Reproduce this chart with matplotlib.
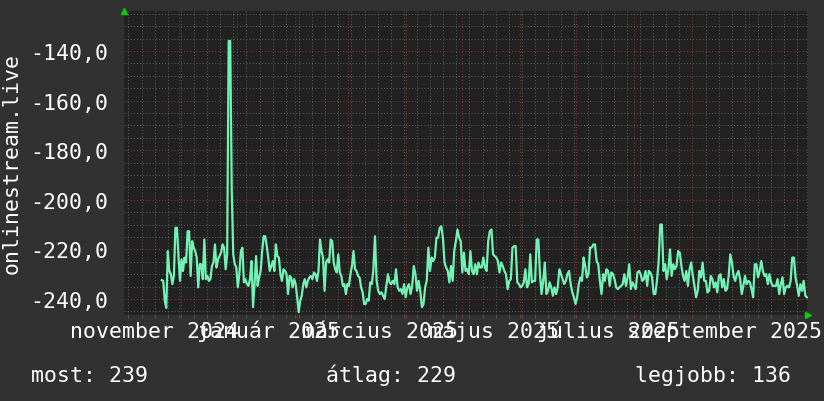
import matplotlib
matplotlib.use('Agg')
import matplotlib.pyplot as plt
import matplotlib.dates as mdates
import matplotlib.ticker as mticker
import matplotlib.transforms as mtransforms
import pandas as pd

# ping-like values in three stretches
seg1_start, seg1_end = '2024-11-21 18:30', '2025-03-14 16:00'
seg1 = [-232.4, -232.7, -240.7, -243.6, -220.7, -228.7, -230, -234, -230.7, -211.3,
        -211.3, -222.7, -232.7, -224, -228.7, -223.3, -225.3, -212.7, -212.7, -230.7,
        -216.7, -219.3, -220.7, -223.3, -235.3, -226, -226, -232, -216, -232,
        -230.7, -232.7, -232, -226.7, -225.3, -218, -227.3, -224, -222.7, -221.3,
        -218, -219.3, -228, -222, -136, -136, -196, -222, -226, -227.3,
        -235.3, -230, -220.7, -219.3, -233.3, -232, -234, -234.7, -232, -224.7,
        -243.3, -234, -222.7, -234.7, -231.3, -228.7, -220.7, -214.7, -214.7, -218.7,
        -223.3, -228.7, -226.7, -224.7, -228.7, -218, -222.7, -223.3, -230, -232.7,
        -228, -228.7, -230, -238, -230.7, -231.3, -235.3, -232, -234, -239.3,
        -245.3, -240.7, -238.7, -234, -232, -235.3, -232.7, -231.3, -230.7, -232,
        -229.3, -230, -232.7, -228.7, -216, -220.7, -223.3, -236.7, -225.3, -224,
        -225.3, -216, -216.7, -225.3, -228, -229.3, -222, -229.3, -230.7, -234.7,
        -234, -238, -234, -234.7, -230, -226.7, -220.7, -228, -228.7, -230.7,
        -231.3, -235.3, -237.3, -242, -242, -240, -240.7, -233.3, -234, -228.7]

seg2_start, seg2_end = '2025-03-15 14:00', '2025-07-10 02:00'
seg2 = [-214.7, -232.7, -236.7, -238, -237.3, -238.7, -240, -234.7, -230, -233.3,
        -234, -232.7, -234, -228, -235.3, -236.7, -236, -238, -234, -239.3,
        -235.3, -234, -238, -234.7, -226.7, -230, -236.7, -232.7, -236.7, -243.3,
        -242, -235.3, -232.7, -219.3, -228.7, -223.3, -224.7, -223.3, -215.3, -215.3,
        -211.3, -210.7, -215.3, -225.3, -227.3, -228.7, -233.3, -226.7, -232.7, -220.7,
        -216.7, -212, -215.3, -216.7, -229.3, -221.3, -228.7, -228, -230, -220.7,
        -228.7, -230, -226, -230, -225.3, -227.3, -227.3, -223.3, -227.3, -228.7,
        -216.7, -212.7, -212, -222, -222.7, -223.3, -224.7, -229.3, -225.3, -226.7,
        -228.7, -230, -236, -232.7, -232, -219.3, -218.7, -218.7, -233.3, -234,
        -235.3, -234.7, -233.3, -228, -235.3, -234, -222, -233.3, -232.7, -232.7,
        -216, -216, -230, -238, -232.7, -225.3, -238, -236.7, -233.3, -235.3,
        -238.7, -235.3, -238, -235.3, -228, -230, -232, -234, -232.7, -230,
        -228.7, -234, -237.3, -239.3, -242, -239.3, -234, -231.3, -232.7, -223.3,
        -226.7, -231.3, -230, -219.3, -219.3, -218]

seg3_start, seg3_end = '2025-07-10 23:30', '2025-11-01 02:00'
seg3 = [-218, -224.7, -226, -232.7, -238, -230, -232.7, -228, -228.7, -234.7,
        -229.3, -230, -232, -235.3, -236, -235.3, -234.7, -234, -230, -234.7,
        -231.3, -226, -236, -233.3, -234.7, -236, -229.3, -228.7, -230, -232.7,
        -232, -228.7, -234.7, -228.7, -229.3, -231.3, -238, -238, -232.7, -225.3,
        -210, -210, -228.7, -226, -232, -228, -220, -230.7, -226, -228,
        -226.7, -220.7, -221.3, -226.7, -230.7, -232.7, -228.7, -234.7, -228, -225.3,
        -230.7, -234.7, -239.3, -236.7, -228.7, -231.3, -225.3, -232.7, -232.7, -237.3,
        -236.7, -230.7, -232, -235.3, -233.3, -237.3, -230.7, -230, -235.3, -232,
        -236.7, -236, -230.7, -222, -225.3, -230.7, -232.7, -230, -228.7, -232,
        -238, -234.7, -230.7, -234, -232.7, -233.3, -236, -239.3, -226, -226,
        -231.3, -228.7, -224.7, -228.7, -230.7, -230, -234, -230, -233.3, -234.7,
        -234.7, -234.7, -232, -238, -234, -231.3, -238, -235.3, -234.7, -235.3,
        -232.7, -223.3, -223.3, -231.3, -234.7, -238.7, -234, -236.7, -232.7, -238.7,
        -239.3]

label_months = ['2024-11-01', '2025-01-01', '2025-03-01', '2025-05-01', '2025-07-01', '2025-09-01']
label_texts = ['november 2024', 'január 2025', 'március 2025', 'május 2025', 'július 2025', 'szeptember 2025']
y_ticks = [-240, -220, -200, -180, -160, -140]
footer = ['most: 239', 'átlag: 229', 'legjobb: 136']

parts = []
for start, end, vals in [(seg1_start, seg1_end, seg1), (seg2_start, seg2_end, seg2), (seg3_start, seg3_end, seg3)]:
    idx = pd.date_range(start, end, periods=len(vals))
    parts.append(pd.Series(vals, index=idx))
data = pd.concat(parts)

FONT = 'DejaVu Sans Mono'
FS = 15.5
plt.rcParams['font.family'] = FONT

fig = plt.figure(figsize=(8.24, 4.02), dpi=100, facecolor='#313131')
ax = fig.add_axes([124 / 824, 1 - 316 / 402, 684 / 824, 304 / 402])
ax.set_facecolor('#212121')

ax.plot(data.index, data.values, color='#72f2b4', lw=1.6, zorder=3)

ax.set_xlim(pd.Timestamp('2024-11-01 15:30'), pd.Timestamp('2025-11-01 15:30'))
ax.set_ylim(-246.45, -123.9)

ax.xaxis.set_major_locator(mdates.MonthLocator())
ax.xaxis.set_minor_locator(mdates.WeekdayLocator(byweekday=mdates.MO))
ax.xaxis.set_major_formatter(mticker.NullFormatter())
ax.yaxis.set_major_locator(mticker.FixedLocator(y_ticks))
ax.yaxis.set_minor_locator(mticker.MultipleLocator(5))
ax.yaxis.set_major_formatter(mticker.FuncFormatter(lambda v, p: f'{v:.1f}'.replace('.', ',')))

ax.grid(which='minor', color='#5c5c5c', linestyle=(0, (1, 2)), lw=0.75)
ax.grid(which='major', color='#8a3434', linestyle=(0, (1, 2)), lw=0.75)
ax.set_axisbelow(True)

ax.tick_params(axis='y', which='both', length=0, pad=11.5, labelsize=FS, labelcolor='white')
ax.tick_params(axis='x', which='minor', length=2.5, color='#5c5c5c', direction='out')
ax.tick_params(axis='x', which='major', length=2.5, color='#8a3434', direction='out')

for s in ax.spines.values():
    s.set_visible(False)

# month labels, centred a bit past the month start like rrdtool does
trans = mtransforms.blended_transform_factory(ax.transData, ax.transAxes)
for m, t in zip(label_months, label_texts):
    pos = mdates.date2num(pd.Timestamp(m) + pd.Timedelta(days=17))
    ax.text(pos, -22 / 304, t, transform=trans, ha='center', va='baseline',
            color='white', fontsize=FS, clip_on=False)

# axis arrows
ax.plot([0], [1.0], marker='^', color='#00d000', ms=5, transform=ax.transAxes, clip_on=False)
ax.plot([1.0], [0], marker='>', color='#00d000', ms=5, transform=ax.transAxes, clip_on=False)

fig.text(12 / 824, 1 - 164 / 402, 'onlinestream.live', rotation=90, ha='center', va='center',
         color='white', fontsize=FS)

for txt, xp in zip(footer, [31, 326, 635]):
    fig.text(xp / 824, 1 - 382 / 402, txt, ha='left', va='baseline', color='white', fontsize=FS)

fig.savefig('out.png', dpi=100, facecolor=fig.get_facecolor())
